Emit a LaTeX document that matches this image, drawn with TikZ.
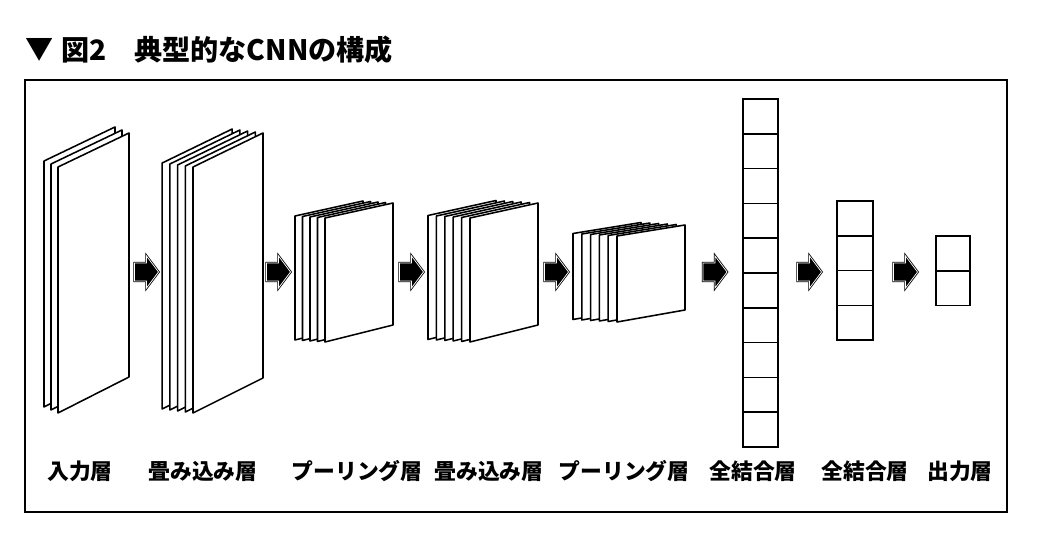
\documentclass[tikz,border=0pt]{standalone}
\usepackage{fontspec}
\setmainfont{Noto Sans CJK JP}
\usetikzlibrary{positioning}

\tikzset{
  sheet/.style = {draw, fill=white, line width=1.1pt, line join=round},
  cell/.style = {draw, fill=white, line width=1.1pt},
  steparrow/.pic = {
    \draw[fill=black, line width=0.6pt, double=white, double distance=0.5pt, line join=miter]
      (-12,-9) -- (0,-9) -- (0,-16) -- (12,0) -- (0,16) -- (0,9) -- (-12,9) -- cycle;
  },
  layername/.style = {font=\fontsize{15.5}{18}\selectfont\bfseries, inner sep=0pt},
  titletext/.style = {font=\fontsize{20}{24}\selectfont\bfseries, inner sep=0pt, anchor = west}
}

% stack of sheets: left, width, top-left, top-right, bottom-left, bottom-right, back sheets, dx, dy
\newcommand{\sheetstack}[9]{%
  \foreach \k in {#7,...,0}{%
    \draw[sheet] ({#1-\k*#8},{#3-\k*#9}) -- ({#1+#2-\k*#8},{#4-\k*#9})
      -- ({#1+#2-\k*#8},{#6-\k*#9}) -- ({#1-\k*#8},{#5-\k*#9}) -- cycle;
  }}

\begin{document}
\begin{tikzpicture}[x=0.025cm, y=-0.025cm]
  \useasboundingbox (0,0) rectangle (1040,536);
  \def\midy{272}

  \node[titletext] (ttri) at (25,50) {▼};
  \node[titletext] (tfig) at (61,50) {図2};
  \node[titletext] (tname) at (134,50) {典型的なCNNの構成};

  \draw[line width=1.2pt] (25,80) rectangle (1007,512);

  \sheetstack{58}{71}{167}{133}{413}{377}{2}{7}{3}
  \sheetstack{193}{70}{167}{133}{413}{378}{4}{7.7}{1}
  \sheetstack{325}{68}{218}{203}{342}{325}{4}{7.5}{0.5}
  \sheetstack{470}{68}{218}{203}{342}{325}{5}{8.4}{0.5}
  \sheetstack{617}{68}{236}{225}{322}{310}{5}{8.8}{0.5}

  \foreach \i in {0,...,9}
    \draw[cell] (743,{99+\i*34.8}) rectangle (778,{99+(\i+1)*34.8});
  \foreach \i in {0,...,3}
    \draw[cell] (837,{201+\i*34.8}) rectangle (873,{201+(\i+1)*34.8});
  \foreach \i in {0,...,1}
    \draw[cell] (936,{236+\i*34.8}) rectangle (970,{236+(\i+1)*34.8});

  \pic (arr1) at (146.5,\midy) {steparrow};
  \pic (arr2) at (278.5,\midy) {steparrow};
  \pic (arr3) at (411.5,\midy) {steparrow};
  \pic (arr4) at (556.5,\midy) {steparrow};
  \pic (arr5) at (715,\midy) {steparrow};
  \pic (arr6) at (809.5,\midy) {steparrow};
  \pic (arr7) at (905.5,\midy) {steparrow};

  \node[layername] (lin) at (80,471) {入力層};
  \node[layername] (lconv1) at (203,471) {畳み込み層};
  \node[layername] (lpool1) at (357,471) {プーリング層};
  \node[layername] (lconv2) at (489,471) {畳み込み層};
  \node[layername] (lpool2) at (624,471) {プーリング層};
  \node[layername] (lfc1) at (753,471) {全結合層};
  \node[layername] (lfc2) at (865,471) {全結合層};
  \node[layername] (lout) at (960,471) {出力層};
\end{tikzpicture}
\end{document}
